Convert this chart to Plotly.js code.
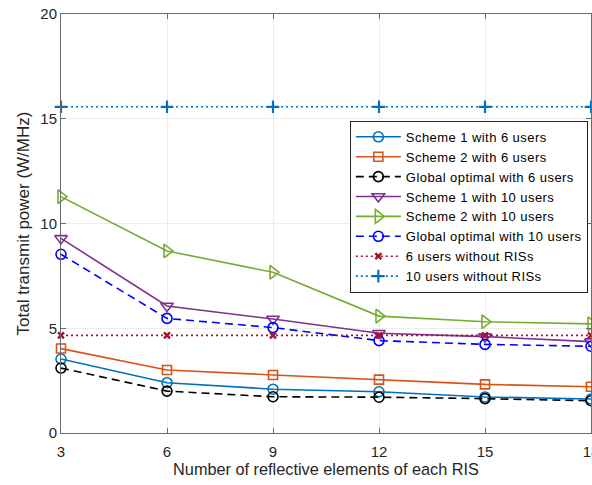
<!DOCTYPE html>
<html><head><meta charset="utf-8">
<script src="https://cdn.plot.ly/plotly-3.0.1.min.js"></script>
<style>html,body{margin:0;padding:0;background:#fff}#chart{width:592px;height:485px}
text.legendtext{letter-spacing:0.44px}</style>
</head><body><div id="chart"></div>
<script>
const xVals = [3, 6, 9, 12, 15, 18];
const scheme1_6 = [3.53, 2.40, 2.09, 1.97, 1.72, 1.62];
const scheme2_6 = [4.03, 3.01, 2.77, 2.55, 2.32, 2.21];
const global_6 = [3.10, 2.00, 1.73, 1.71, 1.64, 1.54];
const scheme1_10 = [9.29, 6.06, 5.44, 4.76, 4.60, 4.36];
const scheme2_10 = [11.28, 8.69, 7.67, 5.58, 5.31, 5.21];
const global_10 = [8.53, 5.47, 5.03, 4.41, 4.23, 4.14];
const noRIS_6 = [4.66, 4.66, 4.66, 4.66, 4.66, 4.66];
const noRIS_10 = [15.57, 15.57, 15.57, 15.57, 15.57, 15.57];
const names = ["Scheme 1 with 6 users","Scheme 2 with 6 users","Global optimal with 6 users",
  "Scheme 1 with 10 users","Scheme 2 with 10 users","Global optimal with 10 users",
  "6 users without RISs","10 users without RISs"];
const xTicks = [3, 6, 9, 12, 15, 18];
const yTicks = [0, 5, 10, 15, 20];

function tr(y, name, color, symbol, dash, msize, lw){
  return {x: xVals, y: y, name: name, type: 'scatter', mode: 'lines+markers',
    line: {color: color, width: lw || 1.6, dash: dash},
    marker: {symbol: symbol, size: msize || 10, color: color, line: {color: color, width: 1.6}},
    cliponaxis: false};
}
const data = [
  tr(scheme1_6, names[0], '#0072BD', 'circle-open', 'solid'),
  tr(scheme2_6, names[1], '#D95319', 'square-open', 'solid', 9),
  tr(global_6, names[2], '#000000', 'circle-open', '8px,5px'),
  tr(scheme1_10, names[3], '#7E2F8E', 'triangle-down-open', 'solid', 11),
  tr(scheme2_10, names[4], '#77AC30', 'triangle-right-open', 'solid', 12),
  tr(global_10, names[5], '#0000FF', 'circle-open', '8px,5px'),
  tr(noRIS_6, names[6], '#A2142F', 'x-thin-open', '2px,3px', 6),
  tr(noRIS_10, names[7], '#0072BD', 'cross-thin-open', '2px,3px', 9)
];
data[6].marker.line.width = 2.4;
data[7].marker.line.width = 2.2;

const FONT = 'Liberation Sans, Arial, sans-serif';
const axisCommon = {
  showline: true, linecolor: '#6b6b6b', linewidth: 1, mirror: 'ticks',
  ticks: 'inside', ticklen: 5, tickcolor: '#6b6b6b',
  showgrid: true, gridcolor: '#ececec', gridwidth: 1, zeroline: false,
  tickfont: {family: FONT, size: 15, color: '#262626'},
  automargin: false, ticklabeloverflow: 'allow'
};
const layout = {
  width: 592, height: 485,
  margin: {l: 61, r: 1, t: 14, b: 52},
  paper_bgcolor: '#fff', plot_bgcolor: '#fff',
  showlegend: true,
  xaxis: Object.assign({}, axisCommon, {
    range: [3, 18], tickvals: xTicks, ticktext: xTicks.map(String),
    ticklabelstandoff: 5,
    title: {text: 'Number of reflective elements of each RIS', standoff: 2,
      font: {family: FONT, size: 16.3, color: '#262626'}}
  }),
  yaxis: Object.assign({}, axisCommon, {
    range: [0, 20], tickvals: yTicks, ticktext: yTicks.map(String),
    title: {text: 'Total transmit power (W/MHz)', standoff: 6,
      font: {family: FONT, size: 17, color: '#262626'}}
  }),
  legend: {
    x: 0.545, y: 0.745, xanchor: 'left', yanchor: 'top',
    bgcolor: '#ffffff', bordercolor: '#262626', borderwidth: 1,
    font: {family: FONT, size: 13, color: '#000'},
    itemwidth: 45, tracegroupgap: 0
  }
};
Plotly.newPlot('chart', data, layout, {displayModeBar: false, staticPlot: true});
</script></body></html>
